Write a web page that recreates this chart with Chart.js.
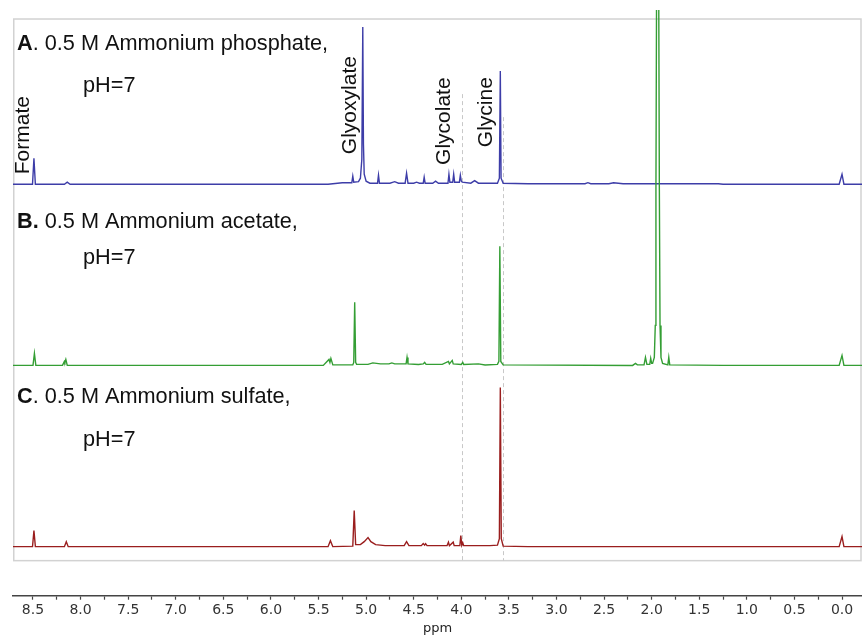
<!DOCTYPE html>
<html>
<head>
<meta charset="utf-8">
<script src="https://cdn.jsdelivr.net/npm/chart.js@4.4.1/dist/chart.umd.min.js"></script>
<style>
  html, body { margin: 0; padding: 0; background: #fff; }
  canvas { display: block; }
</style>
</head>
<body>
<canvas id="nmrChart" width="862" height="636"></canvas>
<script>
// spectra: [ppm, intensity above own baseline]
const traceA = [
  [8.71, 0], [8.505, 0], [8.49, 26], [8.475, 0],
  [8.17, 0], [8.14, 2], [8.11, 0],
  [5.40, 0], [5.25, 1.5], [5.15, 1.5], [5.14, 8], [5.13, 2],
  [5.08, 2.5], [5.06, 6], [5.045, 25], [5.035, 157], [5.028, 40], [5.02, 10], [5.0, 3], [4.96, 1],
  [4.88, 1], [4.87, 9], [4.86, 1],
  [4.75, 1], [4.70, 2.5], [4.66, 1],
  [4.59, 1], [4.575, 11], [4.56, 1],
  [4.50, 1], [4.47, 2], [4.44, 1],
  [4.40, 1], [4.39, 7], [4.38, 1],
  [4.30, 1], [4.27, 3], [4.24, 1],
  [4.14, 1], [4.13, 10], [4.12, 2], [4.09, 2], [4.08, 10], [4.07, 2],
  [4.02, 2], [4.01, 9], [4.0, 3], [3.99, 2],
  [3.90, 1], [3.86, 3.5], [3.82, 1],
  [3.62, 1], [3.60, 6], [3.59, 113], [3.582, 6], [3.56, 1],
  [3.3, 0.5], [2.70, 0.5], [2.67, 1.5], [2.64, 0.5], [2.45, 0.5], [2.40, 1.5], [2.30, 0.5],
  [1.30, 0.5], [1.25, 0], [0.03, 0], [0.0, 10], [-0.02, 0], [-0.21, 0]
];

const traceB = [
  [8.71, 0], [8.50, 0], [8.485, 12], [8.47, 0],
  [8.19, 0], [8.17, 4], [8.165, 3], [8.155, 6], [8.14, 0],
  [5.45, 0], [5.39, 6], [5.38, 3], [5.37, 7], [5.35, 0.5],
  [5.14, 0.5], [5.13, 3], [5.12, 63], [5.11, 3], [5.10, 1],
  [4.98, 1], [4.93, 2.5], [4.85, 1.5], [4.76, 1.5], [4.73, 2.5], [4.70, 1.5],
  [4.58, 1.5], [4.57, 8], [4.56, 1.5],
  [4.45, 1], [4.40, 1.5], [4.385, 3], [4.37, 1],
  [4.20, 1], [4.135, 4], [4.125, 1.5], [4.095, 5], [4.085, 1.5],
  [4.0, 1], [3.985, 3], [3.975, 1], [3.82, 1.5], [3.75, 0.5],
  [3.62, 1], [3.605, 4], [3.595, 119], [3.585, 4], [3.56, 0.5],
  [2.20, 0], [2.17, 2], [2.15, 0.5], [2.08, 0.5], [2.065, 8], [2.05, 1], [2.02, 1], [2.01, 7], [2.0, 2],
  [1.99, 2], [1.972, 8], [1.962, 40], [1.955, 175], [1.949, 355], [1.937, 900],
  [1.925, 355], [1.919, 175], [1.912, 40], [1.902, 8], [1.885, 2],
  [1.83, 0.5], [1.82, 8], [1.81, 0.5],
  [1.25, 0], [0.03, 0], [0.0, 10], [-0.02, 0], [-0.21, 0]
];

const traceC = [
  [8.71, 0], [8.505, 0], [8.49, 16], [8.475, 0],
  [8.17, 0], [8.15, 5], [8.13, 0],
  [5.40, 0], [5.375, 6], [5.35, 0],
  [5.14, 0.5], [5.125, 36], [5.11, 2],
  [5.06, 2], [5.02, 5], [4.98, 9], [4.95, 5], [4.90, 2], [4.80, 1],
  [4.60, 1], [4.575, 5], [4.55, 1],
  [4.42, 1], [4.40, 3], [4.385, 1.5], [4.375, 3], [4.36, 1],
  [4.15, 1], [4.135, 4.5], [4.125, 1], [4.085, 4.5], [4.075, 1],
  [4.015, 1], [4.005, 11], [3.995, 1.5], [3.985, 4], [3.975, 1],
  [3.70, 1], [3.62, 1.5], [3.60, 8], [3.59, 159], [3.58, 8], [3.56, 0.5],
  [3.3, 0], [0.03, 0], [0.0, 10], [-0.02, 0], [-0.21, 0]
];

const majorTicks = [8.5, 8.0, 7.5, 7.0, 6.5, 6.0, 5.5, 5.0, 4.5, 4.0, 3.5, 3.0, 2.5, 2.0, 1.5, 1.0, 0.5, 0.0];
const minorTicks = [8.25, 7.75, 7.25, 6.75, 6.25, 5.75, 5.25, 4.75, 4.25, 3.75, 3.25, 2.75, 2.25, 1.75, 1.25, 0.75, 0.25];

const compoundNames = ['Formate', 'Glyoxylate', 'Glycolate', 'Glycine'];
const sampleBold = ['A', 'B.', 'C'];
const sampleText = ['. 0.5 M Ammonium phosphate,', ' 0.5 M Ammonium acetate,', '. 0.5 M Ammonium sulfate,'];

// layout (y in plot units, x in ppm)
const baseA = 411, baseB = 230, baseC = 49;
const frameTop = 576, frameBottom = 35;
const compoundPos = [[8.6, 460], [5.17, 490], [4.18, 474], [3.74, 483]];
const samplePos = [545, 367, 192];
const phPos = [503, 331, 150];
const guideLines = [[3.99, 501], [3.56, 478]];

function shift(trace, base) {
  return trace.map(p => ({ x: p[0], y: p[1] + base }));
}

const framePlugin = {
  id: 'frame',
  beforeDatasetsDraw(chart) {
    const { ctx, chartArea, scales } = chart;
    const x = scales.x, y = scales.y;
    ctx.save();
    ctx.strokeStyle = '#d2d2d2';
    ctx.lineWidth = 1.5;
    const t = y.getPixelForValue(frameTop), b = y.getPixelForValue(frameBottom);
    ctx.strokeRect(chartArea.left + 0.75, t, chartArea.right - chartArea.left - 1.75, b - t);
    ctx.strokeStyle = '#c8c8c8';
    ctx.lineWidth = 1;
    ctx.setLineDash([4, 3]);
    guideLines.forEach(g => {
      const px = Math.round(x.getPixelForValue(g[0])) + 0.5;
      ctx.beginPath();
      ctx.moveTo(px, y.getPixelForValue(g[1]));
      ctx.lineTo(px, b);
      ctx.stroke();
    });
    ctx.restore();
  }
};

const labelPlugin = {
  id: 'labels',
  afterDatasetsDraw(chart) {
    const { ctx, scales } = chart;
    const x = scales.x, y = scales.y;
    ctx.save();
    ctx.fillStyle = '#111';
    ctx.textBaseline = 'alphabetic';
    ctx.textAlign = 'left';
    const left = x.getPixelForValue(8.668);
    for (let i = 0; i < 3; i++) {
      const by = y.getPixelForValue(samplePos[i]);
      ctx.font = 'bold 21.7px "Liberation Sans", Arial, sans-serif';
      ctx.fillText(sampleBold[i], left, by);
      const w = ctx.measureText(sampleBold[i]).width;
      ctx.font = '21.7px "Liberation Sans", Arial, sans-serif';
      ctx.fillText(sampleText[i], left + w, by);
      ctx.fillText('pH=7', x.getPixelForValue(7.974), y.getPixelForValue(phPos[i]));
    }
    ctx.font = '21px "Liberation Sans", Arial, sans-serif';
    ctx.textAlign = 'center';
    ctx.textBaseline = 'middle';
    compoundNames.forEach((name, i) => {
      ctx.save();
      ctx.translate(x.getPixelForValue(compoundPos[i][0]), y.getPixelForValue(compoundPos[i][1]));
      ctx.rotate(-Math.PI / 2);
      ctx.fillText(name, 0, 0);
      ctx.restore();
    });
    ctx.restore();
  }
};

const ctx = document.getElementById('nmrChart').getContext('2d');
new Chart(ctx, {
  type: 'line',
  data: {
    datasets: [
      { label: 'B', data: shift(traceB, baseB), borderColor: '#349e34', borderWidth: 1.4, order: 0 },
      { label: 'A', data: shift(traceA, baseA), borderColor: '#3d3da8', borderWidth: 1.4, order: 1 },
      { label: 'C', data: shift(traceC, baseC), borderColor: '#9a1e1e', borderWidth: 1.4, order: 2 }
    ]
  },
  options: {
    responsive: false,
    animation: false,
    events: [],
    layout: { padding: { left: 13, right: 0, top: 10, bottom: 0 } },
    elements: { point: { radius: 0 }, line: { tension: 0 } },
    plugins: { legend: { display: false }, tooltip: { enabled: false } },
    scales: {
      x: {
        type: 'linear',
        reverse: true,
        min: -0.21,
        max: 8.71,
        afterBuildTicks(scale) {
          scale.ticks = majorTicks.concat(minorTicks).sort((a, b) => a - b).map(v => ({ value: v }));
        },
        ticks: {
          autoSkip: false,
          maxRotation: 0,
          padding: 4,
          color: '#333',
          font: { family: '"DejaVu Sans", Verdana, sans-serif', size: 14, lineHeight: 1.0 },
          callback: v => majorTicks.includes(v) ? v.toFixed(1) : ''
        },
        grid: { drawOnChartArea: false, tickLength: 4, tickColor: '#444', tickWidth: 1.2 },
        border: { display: true, color: '#444', width: 1.5 },
        title: {
          display: true,
          text: 'ppm',
          color: '#222',
          font: { family: '"DejaVu Sans", Verdana, sans-serif', size: 13, lineHeight: 1.1 },
          padding: { top: 0, bottom: 0 }
        }
      },
      y: { display: false, min: 0, max: 585 }
    }
  },
  plugins: [framePlugin, labelPlugin]
});
</script>
</body>
</html>
